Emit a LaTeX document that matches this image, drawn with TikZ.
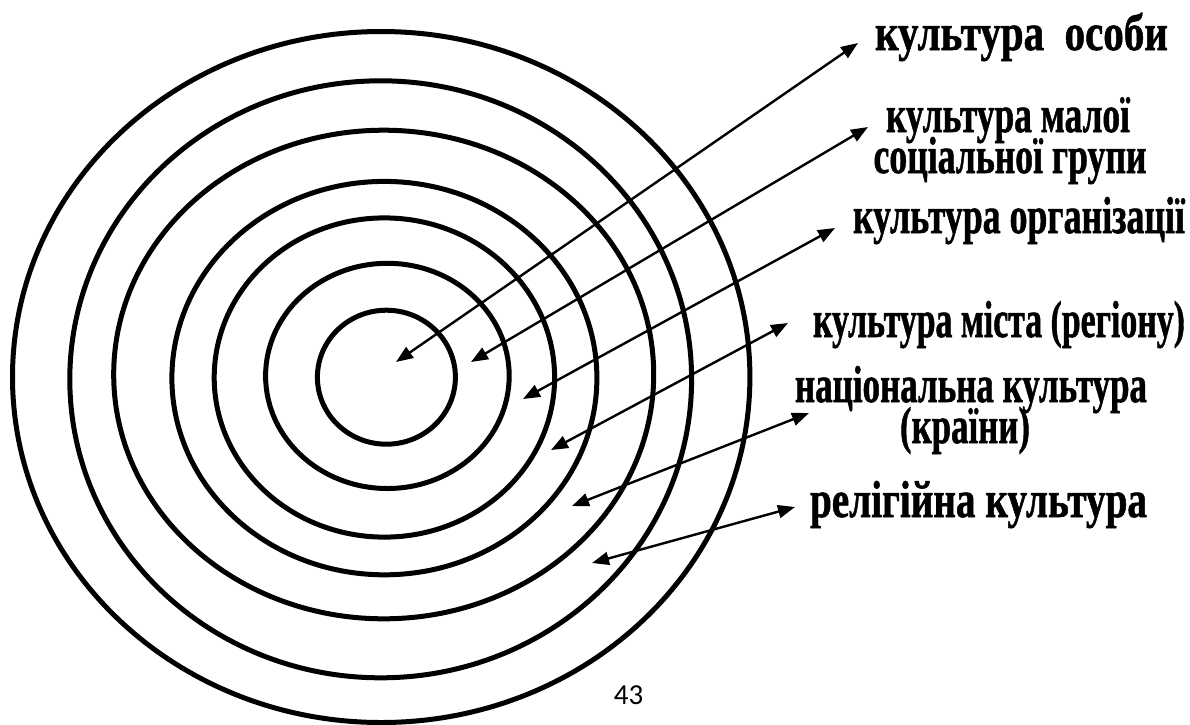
\documentclass[tikz,border=0pt]{standalone}
\usepackage{fontspec}
\newfontfamily\lbl{Liberation Serif}[BoldFeatures={FakeBold=1.2}]
\newfontfamily\pgnum{Carlito}
\usetikzlibrary{arrows.meta}
\newcommand\fitto[2]{\resizebox{#1pt}{\height}{#2}}
\begin{document}
\begin{tikzpicture}[x=1pt,y=-1pt,
  ring/.style={line width=5pt},
  link/.style={line width=2.4pt,
    {Triangle[length=17pt,width=13pt]}-{Triangle[length=17pt,width=13pt]}},
  lab/.style={font=\lbl\bfseries\fontsize{52}{41}\selectfont, inner sep=0pt, anchor=base},
  pg/.style={font=\pgnum\fontsize{29}{34}\selectfont, inner sep=0pt, anchor=base}]
\useasboundingbox (0,0) rectangle (1190,724);
% concentric rings
\draw[ring] (386.4,377.2) ellipse [x radius=69, y radius=67];
\draw[ring] (387.4,375.9) ellipse [x radius=121.8, y radius=112.6];
\draw[ring] (384.4,377.5) ellipse [x radius=170.2, y radius=159.6];
\draw[ring] (384.4,378.1) ellipse [x radius=212.5, y radius=196.7];
\draw[ring] (383.7,374.5) ellipse [x radius=270, y radius=244.3];
\draw[ring] (380.7,379.3) ellipse [x radius=310.9, y radius=298.5];
\draw[ring] (381.2,377) ellipse [x radius=368.7, y radius=345.5];
% labels
\node[lab] (l1) at (1021.5,50) {\fitto{293}{культура\ \ особи}};
\node[lab] (l2) at (1008,132) {\fitto{244}{культура малої}};
\node[lab] (l2b) at (1010,173) {\fitto{273}{соціальної групи}};
\node[lab] (l3) at (1019,233) {\fitto{332}{культура організації}};
\node[lab] (l4) at (999,337) {\fitto{372}{культура міста (регіону)}};
\node[lab] (l5) at (971,402) {\fitto{352}{національна культура}};
\node[lab] (l5b) at (965,443) {\fitto{130}{(країни)}};
\node[lab] (l6) at (978.5,517) {\fitto{337}{релігійна культура}};
\node[pg] (pn) at (628.5,704) {43};
% arrow ends
\coordinate (p1) at (396,362);   \coordinate (q1) at (858,43);
\coordinate (p2) at (471,362);   \coordinate (q2) at (868,127);
\coordinate (p3) at (523,399);   \coordinate (q3) at (835,228);
\coordinate (p4) at (551,450);   \coordinate (q4) at (788,323);
\coordinate (p5) at (572,506);   \coordinate (q5) at (809,413);
\coordinate (p6) at (592,563);   \coordinate (q6) at (795,507);
\draw[link] (p1) -- (q1);
\draw[link] (p2) -- (q2);
\draw[link] (p3) -- (q3);
\draw[link] (p4) -- (q4);
\draw[link] (p5) -- (q5);
\draw[link] (p6) -- (q6);
\end{tikzpicture}
\end{document}
